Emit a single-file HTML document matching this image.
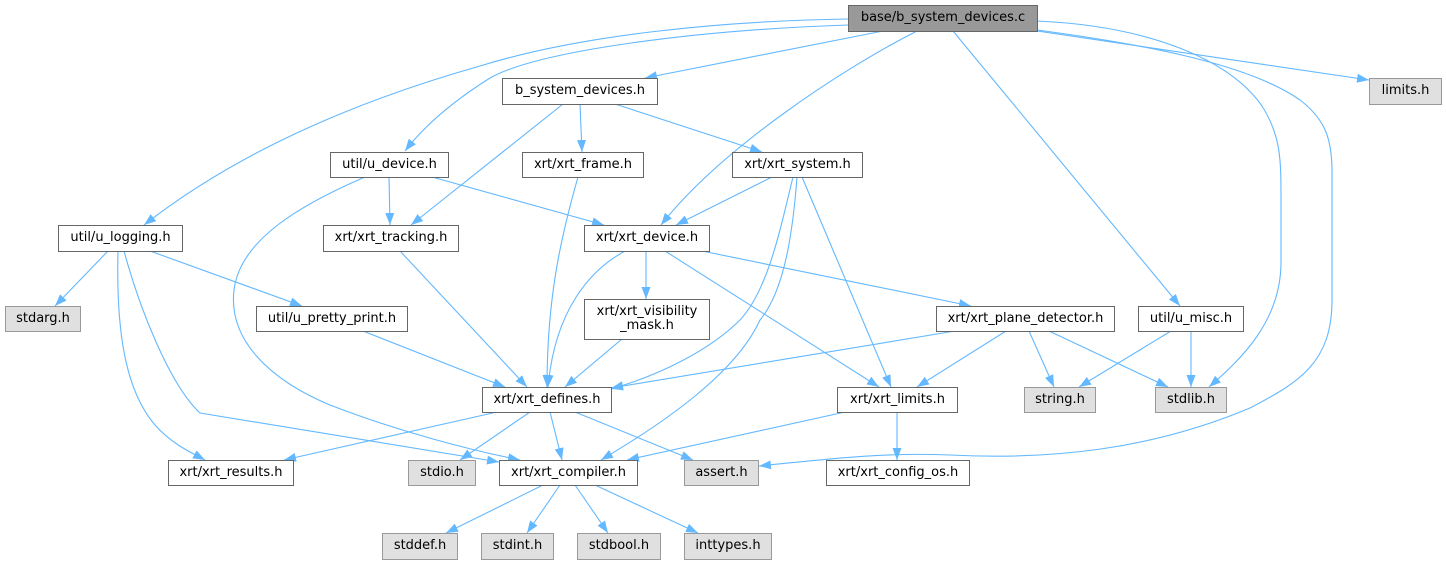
<!DOCTYPE html>
<html>
<head>
<meta charset="utf-8">
<style>
  html, body { margin: 0; padding: 0; background: #ffffff; }
  body { width: 1446px; height: 564px; overflow: hidden; }
  svg { display: block; }
  .e { fill: none; stroke: #63b8ff; stroke-width: 1.1; marker-end: url(#ah); }
  .n rect { fill: #ffffff; stroke: #666666; stroke-width: 1; }
  .g rect { fill: #e0e0e0; stroke: #999999; stroke-width: 1; }
  .r rect { fill: #999999; stroke: #666666; stroke-width: 1; }
  text { font-family: "DejaVu Sans", "Liberation Sans", sans-serif; font-size: 13px; fill: #000; text-anchor: middle; }
</style>
</head>
<body>
<svg width="1446" height="564" viewBox="0 0 1446 564" xmlns="http://www.w3.org/2000/svg">
  <defs>
    <marker id="ah" markerUnits="userSpaceOnUse" markerWidth="12" markerHeight="9" viewBox="0 0 12 9" refX="12" refY="4.5" orient="auto">
      <path d="M0,0 L12,4.5 L0,9 z" fill="#63b8ff"/>
    </marker>
  </defs>

  <!-- edges from root -->
  <path class="e" d="M883,31 L645,78"/>
  <path class="e" d="M848,25 C700,30 540,50 490,78 C455,100 425,125 405,151"/>
  <path class="e" d="M848,19 C720,21 580,35 480,66 C360,100 240,150 144,225"/>
  <path class="e" d="M917,31 C840,70 720,150 661,225"/>
  <path class="e" d="M953,31 L1180,306"/>
  <path class="e" d="M1037,31 L1369,80"/>
  <path class="e" d="M1037,21 C1150,26 1230,60 1262,106 C1281,136 1281,160 1281,200 L1281,262 C1281,322 1240,360 1209,387"/>
  <path class="e" d="M1037,30 C1150,45 1250,65 1300,100 C1326,120 1332,140 1332,172 L1332,300 C1332,362 1300,382 1250,408 C1150,450 1050,460 950,455 C880,452 820,460 759,466"/>

  <!-- b_system_devices.h -->
  <path class="e" d="M563,104 L411,225"/>
  <path class="e" d="M580,104 L582,152"/>
  <path class="e" d="M615,104 L762,152"/>

  <!-- util/u_device.h -->
  <path class="e" d="M389,177 L390,225"/>
  <path class="e" d="M432,177 L604,225"/>
  <path class="e" d="M365,177 C300,205 240,240 234,290 C228,340 270,380 330,405 C400,432 470,450 520,460"/>

  <!-- xrt_frame.h -->
  <path class="e" d="M578,177 C560,240 547,300 547,387"/>

  <!-- xrt_system.h -->
  <path class="e" d="M772,177 L676,225"/>
  <path class="e" d="M793,177 C780,230 768,290 740,320 C710,350 660,375 611,389"/>
  <path class="e" d="M797,177 C793,230 785,290 760,320 C735,375 660,425 601,460"/>
  <path class="e" d="M802,177 L891,387"/>

  <!-- util/u_logging.h -->
  <path class="e" d="M108,251 L55,306"/>
  <path class="e" d="M150,251 L302,306"/>
  <path class="e" d="M118,251 C116,330 125,390 155,425 C172,444 190,452 205,460"/>
  <path class="e" d="M124,251 C140,310 170,385 200,413 L499,462"/>

  <!-- xrt_tracking.h -->
  <path class="e" d="M400,251 L527,387"/>

  <!-- xrt_device.h -->
  <path class="e" d="M646,251 L646,299"/>
  <path class="e" d="M625,251 C590,270 555,310 548,387"/>
  <path class="e" d="M665,251 L879,387"/>
  <path class="e" d="M702,251 L971,306"/>

  <!-- u_pretty_print.h -->
  <path class="e" d="M363,331 L505,387"/>

  <!-- visibility mask -->
  <path class="e" d="M622,339 L565,387"/>

  <!-- plane detector -->
  <path class="e" d="M955,331 L611,388"/>
  <path class="e" d="M1006,331 L917,387"/>
  <path class="e" d="M1029,331 L1054,387"/>
  <path class="e" d="M1049,331 L1168,387"/>

  <!-- u_misc.h -->
  <path class="e" d="M1171,331 L1079,387"/>
  <path class="e" d="M1191,331 L1191,387"/>

  <!-- xrt_defines.h -->
  <path class="e" d="M497,412 L284,460"/>
  <path class="e" d="M530,412 L460,460"/>
  <path class="e" d="M550,412 L562,460"/>
  <path class="e" d="M575,412 L693,460"/>

  <!-- xrt_limits.h -->
  <path class="e" d="M845,412 L627,460"/>
  <path class="e" d="M897,412 L897,460"/>

  <!-- xrt_compiler.h -->
  <path class="e" d="M543,485 L446,533"/>
  <path class="e" d="M560,485 L527,533"/>
  <path class="e" d="M575,485 L608,533"/>
  <path class="e" d="M595,485 L698,533"/>

  <!-- nodes -->
  <g class="r"><rect x="848.5" y="5.5" width="189" height="26"/><text x="943" y="21">base/b_system_devices.c</text></g>
  <g class="g"><rect x="1369.5" y="78.5" width="72" height="26"/><text x="1405.5" y="94">limits.h</text></g>
  <g class="n"><rect x="502.5" y="78.5" width="155" height="26"/><text x="580" y="94">b_system_devices.h</text></g>

  <g class="n"><rect x="330.5" y="152.5" width="118" height="25"/><text x="389.5" y="168">util/u_device.h</text></g>
  <g class="n"><rect x="522.5" y="152.5" width="121" height="25"/><text x="583" y="168">xrt/xrt_frame.h</text></g>
  <g class="n"><rect x="732.5" y="152.5" width="130" height="25"/><text x="797.5" y="168">xrt/xrt_system.h</text></g>

  <g class="n"><rect x="58.5" y="225.5" width="124" height="26"/><text x="120.5" y="241">util/u_logging.h</text></g>
  <g class="n"><rect x="323.5" y="225.5" width="135" height="26"/><text x="391" y="241">xrt/xrt_tracking.h</text></g>
  <g class="n"><rect x="584.5" y="225.5" width="125" height="26"/><text x="647" y="241">xrt/xrt_device.h</text></g>

  <g class="g"><rect x="5.5" y="306.5" width="75" height="25"/><text x="43" y="322">stdarg.h</text></g>
  <g class="n"><rect x="256.5" y="306.5" width="151" height="25"/><text x="332" y="322">util/u_pretty_print.h</text></g>
  <g class="n"><rect x="584.5" y="299.5" width="125" height="40"/><text x="647" y="315">xrt/xrt_visibility</text><text x="647" y="329">_mask.h</text></g>
  <g class="n"><rect x="936.5" y="306.5" width="178" height="25"/><text x="1025.5" y="322">xrt/xrt_plane_detector.h</text></g>
  <g class="n"><rect x="1138.5" y="306.5" width="105" height="25"/><text x="1191" y="322">util/u_misc.h</text></g>

  <g class="n"><rect x="482.5" y="387.5" width="129" height="25"/><text x="547" y="403">xrt/xrt_defines.h</text></g>
  <g class="n"><rect x="837.5" y="387.5" width="120" height="25"/><text x="897.5" y="403">xrt/xrt_limits.h</text></g>
  <g class="g"><rect x="1024.5" y="387.5" width="71" height="25"/><text x="1060" y="403">string.h</text></g>
  <g class="g"><rect x="1155.5" y="387.5" width="71" height="25"/><text x="1191" y="403">stdlib.h</text></g>

  <g class="n"><rect x="168.5" y="460.5" width="125" height="25"/><text x="231" y="476">xrt/xrt_results.h</text></g>
  <g class="g"><rect x="408.5" y="460.5" width="67" height="25"/><text x="442" y="476">stdio.h</text></g>
  <g class="n"><rect x="499.5" y="460.5" width="138" height="25"/><text x="568.5" y="476">xrt/xrt_compiler.h</text></g>
  <g class="g"><rect x="684.5" y="460.5" width="74" height="25"/><text x="721.5" y="476">assert.h</text></g>
  <g class="n"><rect x="826.5" y="460.5" width="143" height="25"/><text x="898" y="476">xrt/xrt_config_os.h</text></g>

  <g class="g"><rect x="382.5" y="533.5" width="75" height="26"/><text x="420" y="549">stddef.h</text></g>
  <g class="g"><rect x="481.5" y="533.5" width="72" height="26"/><text x="517.5" y="549">stdint.h</text></g>
  <g class="g"><rect x="577.5" y="533.5" width="83" height="26"/><text x="619" y="549">stdbool.h</text></g>
  <g class="g"><rect x="684.5" y="533.5" width="87" height="26"/><text x="728" y="549">inttypes.h</text></g>
</svg>
</body>
</html>
